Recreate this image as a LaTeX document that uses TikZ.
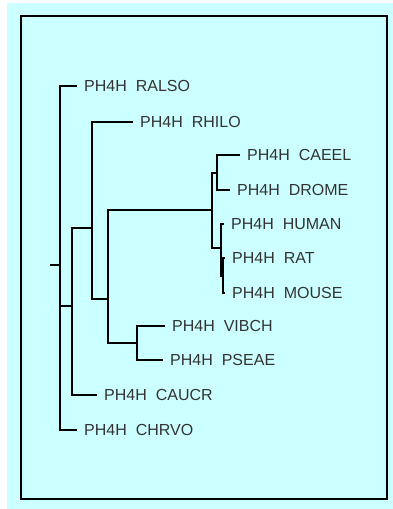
\documentclass[tikz,border=0pt]{standalone}
\usepackage{fontspec}
\setmainfont{Liberation Sans}
\usepackage{xcolor}
\definecolor{bgcyan}{RGB}{204,255,255}
\usetikzlibrary{calc}
\newcommand{\pfh}[1]{PH4H\hspace{4.5pt} #1}

\begin{document}
\begin{tikzpicture}[x=1pt,y=-1pt,
		branch/.style={line width=2.3pt, black},
		leaf/.style={anchor=west, inner xsep=7pt, inner ysep=0pt, font=\fontsize{16}{18}\selectfont, text=black!80}]
		
		\useasboundingbox (0,0) rectangle (393,509);
		\fill[white] (0,0) rectangle (393,509);
		\fill[bgcyan] (7,3) rectangle (393,509);
		\draw[line width=2.6pt, black] (21,16) rectangle (387,499);
		
		\coordinate (r0) at (50,265);
		\coordinate (n1) at (60,265);
		\coordinate (n2) at (72,306);
		\coordinate (n3) at (92,228);
		\coordinate (n4) at (108,299);
		\coordinate (n5) at (212,210);
		\coordinate (n6) at (137,343);
		\coordinate (n7) at (217,173);
		\coordinate (n8) at (221,248);
		\coordinate (n9) at (223,276);
		
		\node[leaf] (ralso) at (77,86) {\pfh{RALSO}};
		\node[leaf] (rhilo) at (133,122) {\pfh{RHILO}};
		\node[leaf] (caeel) at (240,155) {\pfh{CAEEL}};
		\node[leaf] (drome) at (230,190) {\pfh{DROME}};
		\node[leaf] (human) at (224,224) {\pfh{HUMAN}};
		\node[leaf] (rat) at (225,258) {\pfh{RAT}};
		\node[leaf] (mouse) at (225,293) {\pfh{MOUSE}};
		\node[leaf] (vibch) at (165,326) {\pfh{VIBCH}};
		\node[leaf] (pseae) at (163,360) {\pfh{PSEAE}};
		\node[leaf] (caucr) at (97,395) {\pfh{CAUCR}};
		\node[leaf] (chrvo) at (77,430) {\pfh{CHRVO}};
		
		\draw[branch] (r0) -- (n1);
		\draw[branch] (ralso.west) -| (n1) |- (chrvo.west);
		\draw[branch] (n1) |- (n2);
		\draw[branch] (n3) -| (n2) |- (caucr.west);
		\draw[branch] (rhilo.west) -| (n3) |- (n4);
		\draw[branch] (n5) -| (n4) |- (n6);
		\draw[branch] (vibch.west) -| (n6) |- (pseae.west);
		\draw[branch] (n7) -| (n5) |- (n8);
		\draw[branch] (caeel.west) -| (n7) |- (drome.west);
		\draw[branch] (human.west) -| (n8) |- (n9);
		\draw[branch] (rat.west) -| (n9) |- (mouse.west);
		
	\end{tikzpicture}
\end{document}
